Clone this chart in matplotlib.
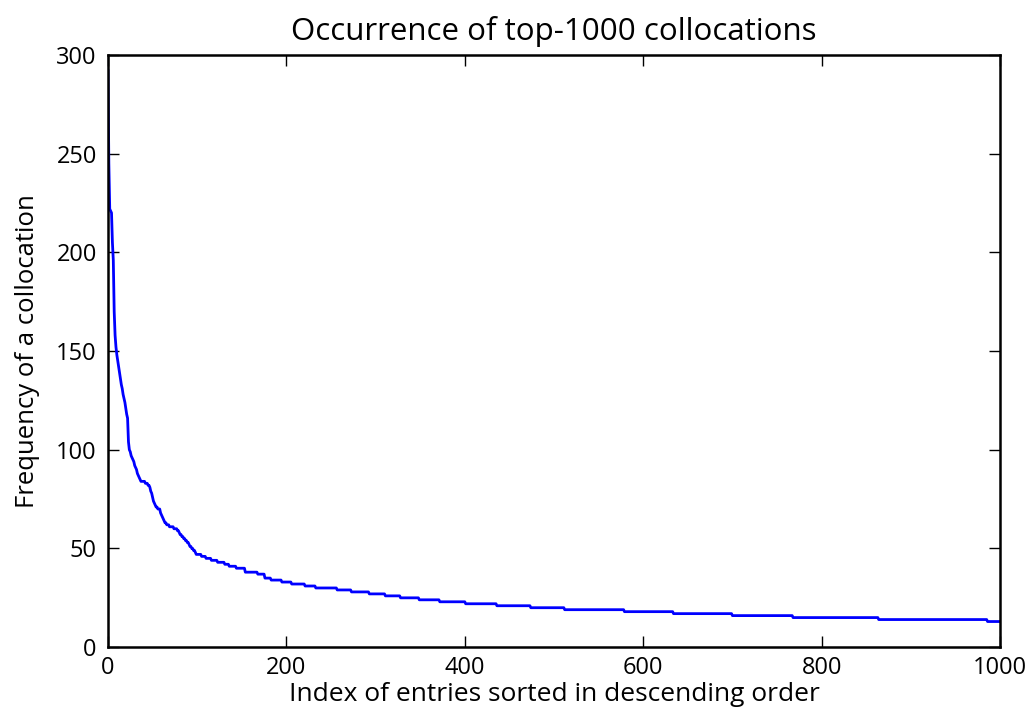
import numpy as np
import matplotlib
matplotlib.use("Agg")
import matplotlib.pyplot as plt

plt.rcParams['font.family'] = ['Open Sans', 'DejaVu Sans']

# frequencies of the first entries, one value per index (0..98)
head_freq = [292, 245, 222, 221, 220, 205, 196, 170, 158, 152,
             148, 145, 142, 139, 136, 133, 131, 128, 126, 124,
             121, 118, 116, 104, 100, 99, 97, 96, 95, 94,
             92, 91, 90, 88, 87, 86, 85, 84, 84, 84,
             84, 84, 83, 83, 83, 82, 82, 81, 79, 78,
             76, 74, 73, 72, 71, 71, 70, 70, 70, 68,
             67, 66, 65, 64, 63, 63, 62, 62, 62, 61,
             61, 61, 61, 61, 60, 60, 60, 60, 59, 59,
             58, 57, 57, 56, 56, 55, 55, 54, 54, 53,
             53, 52, 51, 51, 50, 50, 49, 49, 48]

# rest of the curve as runs: frequency and how many entries share it
tail_freq = [47, 46, 45, 44, 43, 42, 41, 40, 38, 37, 35, 34, 33, 32, 31, 30,
             29, 28, 27, 26, 25, 24, 23, 22, 21, 20, 19, 18, 17, 16, 15, 14, 13]
tail_count = [6, 5, 6, 7, 8, 5, 8, 10, 14, 8, 7, 12, 11, 15, 12, 24,
              16, 20, 18, 17, 21, 23, 29, 35, 38, 38, 67, 55, 66, 68, 96, 122, 15]

freq = np.concatenate([head_freq, np.repeat(tail_freq, tail_count)])
idx = np.arange(len(freq))

fig = plt.figure(figsize=(10.36, 7.28), dpi=100)
ax = fig.add_axes([0.1042, 0.111, 0.8611, 0.8135])
ax.plot(idx, freq, color='#0000ff', linewidth=2)

ax.set_xlim(0, 1000)
ax.set_ylim(0, 300)
ax.set_xticks(range(0, 1001, 200))
ax.set_yticks(range(0, 301, 50))
ax.tick_params(direction='in', top=True, right=True, length=8, width=1,
               labelsize=17, pad=8)
ax.tick_params(axis='x', pad=6)
for s in ax.spines.values():
    s.set_linewidth(1.8)

ax.set_title('Occurrence of top-1000 collocations', fontsize=22.5, pad=11)
ax.set_xlabel('Index of entries sorted in descending order', fontsize=19, labelpad=2)
ax.set_ylabel('Frequency of a collocation', fontsize=18.5, labelpad=12)

fig.savefig('out.png', dpi=100)
